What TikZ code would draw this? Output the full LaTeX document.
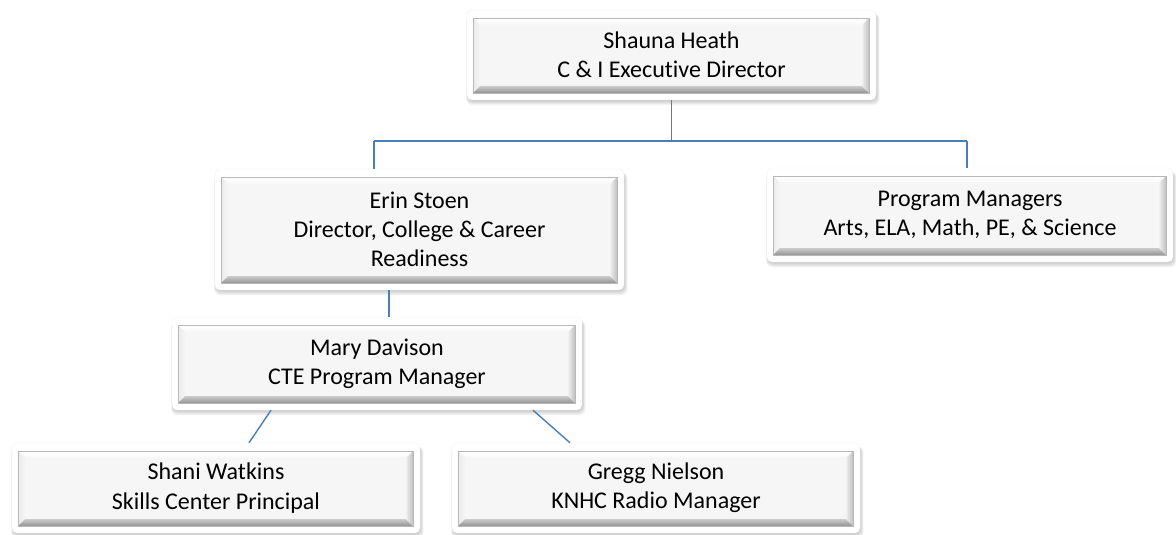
\documentclass[tikz,border=0pt]{standalone}
\usepackage{fontspec}
\setmainfont{Carlito}[Ligatures={NoCommon,NoDiscretionary,NoRare}]
\definecolor{linkblue}{HTML}{4A7EBB}
\tikzset{
  conn/.style={draw=linkblue, line width=1.8pt},
  lab/.style={font=\fontsize{24}{29.3}\selectfont, align=center, text=black, inner sep=0pt},
}
\newcommand\orgbox[6]{%
  \pgfmathsetmacro\ax{#2+6}\pgfmathsetmacro\ay{#3+8}%
  \pgfmathsetmacro\bx{#4-7}\pgfmathsetmacro\by{#5-7}%
  \pgfmathsetmacro\cx{\ax+7}\pgfmathsetmacro\cy{\ay+7}%
  \pgfmathsetmacro\dx{\bx-7}\pgfmathsetmacro\dy{\by-7}%
  \pgfmathsetmacro\mx{(#2+#4)/2}\pgfmathsetmacro\my{(#3+#5)/2}%
  \pgfmathsetmacro\ww{#4-#2}\pgfmathsetmacro\hh{#5-#3}%
  \foreach \k in {1,...,6} {
    \fill[black, opacity=0.035, rounded corners=6pt]
      (#2+1-\k*0.3, #3+2+\k*0.3) rectangle (#4+\k*0.6, #5+\k*0.9);
  }
  \fill[white, draw=black!6, rounded corners=5pt] (#2,#3) rectangle (#4,#5);
  \fill[black!3.5] (\ax,\ay) rectangle (\bx,\by);
  \shade[top color=white, bottom color=black!3] (\ax,\ay) -- (\bx,\ay) -- (\dx,\cy) -- (\cx,\cy) -- cycle;
  \shade[left color=black!8, right color=black!4] (\ax,\ay) -- (\cx,\cy) -- (\cx,\dy) -- (\ax,\by) -- cycle;
  \shade[top color=black!20, bottom color=black!42] (\ax,\by) -- (\cx,\dy) -- (\dx,\dy) -- (\bx,\by) -- cycle;
  \shade[left color=black!6, right color=black!25] (\bx,\ay) -- (\bx,\by) -- (\dx,\dy) -- (\dx,\cy) -- cycle;
  \draw[black!28, line width=0.6pt] (\ax,\ay) rectangle (\bx,\by);
  \node[lab, minimum width=\ww pt, minimum height=\hh pt] (#1) at (\mx,\my) {#6};
}
\begin{document}
\begin{tikzpicture}[x=1pt, y=-1pt]
  \useasboundingbox (0,0) rectangle (1176,535);
  \fill[white] (0,0) rectangle (1176,535);
  \coordinate (j1) at (374,141);
  \coordinate (j2) at (967,141);
  \coordinate (em) at (389,0);
  \coordinate (msa) at (271,0);
  \coordinate (msb) at (249,0);
  \coordinate (mga) at (533,0);
  \coordinate (mgb) at (570,0);
  \orgbox{top}{467}{10}{876}{100}{Shauna Heath\\C \& I Executive Director}
  \orgbox{erin}{215}{169}{624}{290}{Erin Stoen\\Director, College \& Career\\Readiness}
  \orgbox{pm}{767}{168}{1173}{262}{Program Managers\\Arts, ELA, Math, PE, \& Science}
  \orgbox{mary}{172}{317}{582}{410}{Mary Davison\\CTE Program Manager}
  \orgbox{shani}{12}{443}{420}{533}{Shani Watkins\\Skills Center Principal}
  \orgbox{gregg}{452}{443}{860}{533}{Gregg Nielson\\KNHC Radio Manager}
  \draw[conn] (top.south) -- (top.south |- j1);
  \draw[conn] (j1) -- (j2);
  \draw[conn] (j1) -- (j1 |- erin.north);
  \draw[conn] (j2) -- (j2 |- pm.north);
  \draw[conn] (em |- erin.south) -- (em |- mary.north);
  \draw[conn, line width=1.4pt] (msa |- mary.south) -- (msb |- shani.north);
  \draw[conn, line width=1.4pt] (mga |- mary.south) -- (mgb |- gregg.north);
\end{tikzpicture}
\end{document}
